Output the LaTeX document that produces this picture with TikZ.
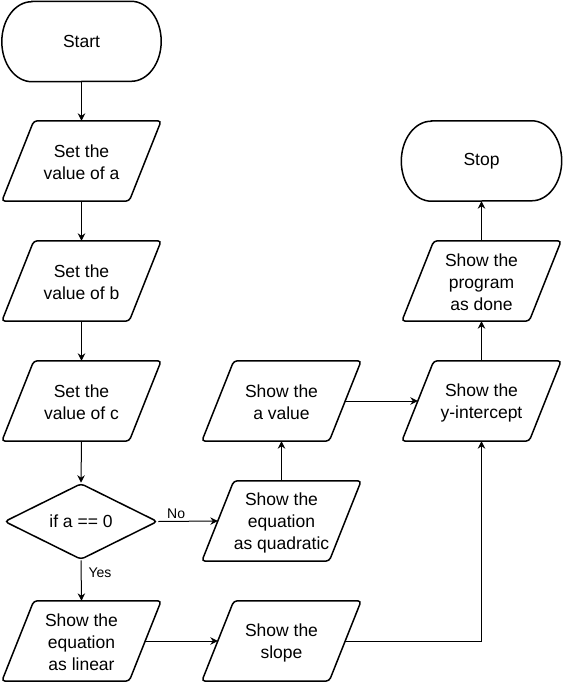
\documentclass[tikz,border=0pt]{standalone}
\usepackage{fontspec}
\setmainfont{Liberation Sans}
\usetikzlibrary{shapes.geometric,arrows.meta,calc}
\tikzset{
  txt/.style={font=\fontsize{17.5}{22}\selectfont, align=center, text=black},
  para/.style={rectangle, minimum width=127pt, minimum height=80pt, inner sep=0pt},
  ptext/.style={txt, inner sep=0pt},
  paraline/.style={draw, line width=1.5pt, rounded corners=3.5pt},
  termnode/.style={txt, rectangle, minimum width=159pt, minimum height=80pt, inner sep=0pt},
  termline/.style={draw, line width=1.5pt},
  decision/.style={txt, diamond, minimum width=153pt, minimum height=76pt, inner sep=0pt, draw, line width=1.5pt, rounded corners=3.5pt},
  arr/.style={draw, line width=1pt, -{Stealth[length=7.5pt,width=7.5pt,inset=2.5pt]}},
  lbl/.style={font=\fontsize{14}{16}\selectfont, text=black, inner sep=1pt}
}
\newcommand\myterm[1]{%
  \draw[termline] ($(#1.north west)+(30pt,0)$) -- ($(#1.north east)+(-30pt,0)$)
    arc[start angle=90, end angle=-90, x radius=30pt, y radius=40pt]
    -- ($(#1.south west)+(30pt,0)$)
    arc[start angle=270, end angle=90, x radius=30pt, y radius=40pt] -- cycle;}
\newcommand\mypara[3]{%
  \node[para] (#1) at (#2) {};
  \node[ptext] (#1-t) at ($(#1.center)+(0,-1.5pt)$) {#3};
  \draw[paraline] ($(#1.south west)+(-16pt,0)$) -- ($(#1.south east)+(-16pt,0)$)
    -- ($(#1.north east)+(16pt,0)$) -- ($(#1.north west)+(16pt,0)$) -- cycle;}
\begin{document}
\begin{tikzpicture}[x=1pt,y=1pt]
\useasboundingbox (0,0) rectangle (562,-682);
\node[termnode] (start) at (81.5,-41.5) {Start};
\myterm{start}
\mypara{seta}{81.5,-161}{Set the\\value of a}
\mypara{setb}{81.5,-281}{Set the\\value of b}
\mypara{setc}{81.5,-401}{Set the\\value of c}
\node[decision] (cond) at (81,-521.5) {if a == 0};
\mypara{lin}{81.5,-641}{Show the\\equation\\as linear}
\mypara{slope}{281.5,-641}{Show the\\slope}
\mypara{quad}{281.5,-521}{Show the\\equation\\as quadratic}
\mypara{aval}{281.5,-401}{Show the\\a value}
\mypara{yint}{481.5,-401}{Show the\\y-intercept}
\mypara{done}{481.5,-281}{Show the\\program\\as done}
\node[termnode, minimum width=160pt] (stop) at (481.5,-161) {Stop};
\myterm{stop}
\draw[arr] (start.south) -- (seta.north);
\draw[arr] (seta.south) -- (setb.north);
\draw[arr] (setb.south) -- (setc.north);
\draw[arr] (setc.south) -- (cond.north);
\draw[arr] (cond.east) -- node[lbl, pos=0.3, above, yshift=1pt] {No} (quad.west);
\draw[arr] (cond.south) -- node[lbl, pos=0.3, right, xshift=6pt] {Yes} (lin.north);
\draw[arr] (lin.east) -- (slope.west);
\draw[arr] (slope.east) -| (yint.south);
\draw[arr] (quad.north) -- (aval.south);
\draw[arr] (aval.east) -- (yint.west);
\draw[arr] (yint.north) -- (done.south);
\draw[arr] (done.north) -- (stop.south);
\end{tikzpicture}
\end{document}
